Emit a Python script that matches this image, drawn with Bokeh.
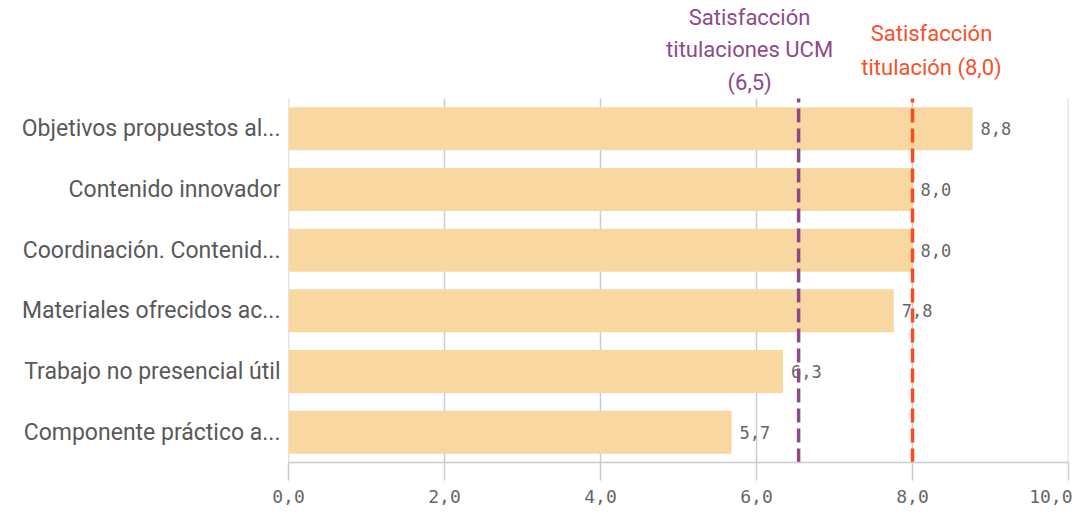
from bokeh.plotting import figure
from bokeh.models import ColumnDataSource, Label, Range1d, FixedTicker, CustomJSTickFormatter
from bokeh.core.properties import value
from bokeh.embed import file_html
from bokeh.resources import INLINE

categories = ["Objetivos propuestos al...", "Contenido innovador", "Coordinación. Contenid...",
              "Materiales ofrecidos ac...", "Trabajo no presencial útil", "Componente práctico a..."]
scores = [8.77, 8.0, 8.0, 7.76, 6.34, 5.68]
ucm_ref = 6.54
tit_ref = 8.0
ucm_text = "Satisfacción\ntitulaciones UCM\n(6,5)"
tit_text = "Satisfacción\ntitulación (8,0)"
ticks = [0, 2, 4, 6, 8, 10]

n = len(categories)
ypos = [n - 0.5 - i for i in range(n)]          # first category on top
labels = [f"{v:.1f}".replace(".", ",") for v in scores]
src = ColumnDataSource(dict(y=ypos, v=scores, lab=labels))

W, H = 1072, 512
frame_bottom_px = 462      # from top of canvas
bars_top_px = 98
unit_px = (frame_bottom_px - bars_top_px) / n
y_top = n + bars_top_px / unit_px

p = figure(width=W, height=H, output_backend="svg", toolbar_location=None,
           x_range=Range1d(0, 10), y_range=Range1d(0, y_top),
           min_border_left=288, min_border_right=4, min_border_top=0,
           min_border_bottom=H - frame_bottom_px)
p.outline_line_color = None
p.background_fill_color = "white"

# vertical grid lines only over the bar area
p.segment(x0=ticks, x1=ticks, y0=[0] * len(ticks), y1=[n] * len(ticks),
          line_color="#cccccc", line_width=1.5)

p.hbar(y="y", right="v", left=0, height=0.71, source=src, fill_color="#f9d7a1", line_color=None)
p.text(x="v", y="y", text="lab", source=src, x_offset=8, text_baseline="middle",
       text_font=value("DejaVu Sans Mono"), text_font_size="17px", text_color="#666666")

p.segment(x0=[ucm_ref], x1=[ucm_ref], y0=[0], y1=[n], line_color="#8c4a88", line_width=3.5,
          line_dash="14 6")
p.segment(x0=[tit_ref], x1=[tit_ref], y0=[0], y1=[n], line_color="#f84a1c", line_width=3.5,
          line_dash="14 6")

p.add_layout(Label(x=ucm_ref, y=n, x_offset=-49, y_offset=4, text=ucm_text, text_align="center",
                   text_baseline="bottom", text_font="Roboto", text_font_size="22px",
                   text_color="#8c4a88", text_line_height=1.3))
p.add_layout(Label(x=tit_ref, y=n, x_offset=19, y_offset=19, text=tit_text, text_align="center",
                   text_baseline="bottom", text_font="Roboto", text_font_size="22px",
                   text_color="#f5512a", text_line_height=1.35))

p.xaxis.ticker = FixedTicker(ticks=ticks)
p.xaxis.formatter = CustomJSTickFormatter(code="return tick.toFixed(1).replace('.', ',');")
p.xaxis.axis_line_color = "#cccccc"
p.xaxis.axis_line_width = 1.5
p.xaxis.major_tick_line_color = "#cccccc"
p.xaxis.major_tick_line_width = 1.5
p.xaxis.major_tick_in = 0
p.xaxis.major_tick_out = 18
p.xaxis.minor_tick_line_color = None
p.xaxis.major_label_standoff = 9
p.xaxis.major_label_text_font = "DejaVu Sans Mono"
p.xaxis.major_label_text_font_size = "18px"
p.xaxis.major_label_text_color = "#666666"

p.yaxis.ticker = FixedTicker(ticks=ypos)
p.yaxis.major_label_overrides = {y: c for y, c in zip(ypos, categories)}
p.yaxis.axis_line_color = None
p.yaxis.major_tick_line_color = None
p.yaxis.minor_tick_line_color = None
p.yaxis.major_label_standoff = 2
p.yaxis.major_label_text_font = "Roboto"
p.yaxis.major_label_text_font_size = "23px"
p.yaxis.major_label_text_color = "#595959"

p.xgrid.grid_line_color = None
p.ygrid.grid_line_color = None

open("out.html", "w").write(file_html(p, INLINE))
